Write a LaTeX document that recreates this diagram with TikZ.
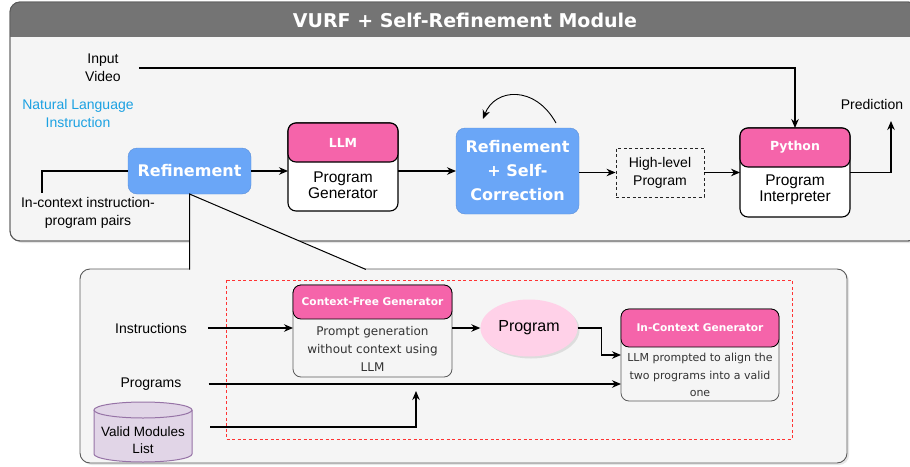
\documentclass[tikz,border=0pt]{standalone}
\usepackage{fontspec}
\setmainfont{Liberation Sans}
\newfontfamily\verd{DejaVu Sans}
\usepackage{tikz}
\usetikzlibrary{shapes,arrows.meta,positioning,shadows}

\definecolor{panelgray}{HTML}{F5F5F5}
\definecolor{panelline}{HTML}{5A5A5A}
\definecolor{titlegray}{HTML}{747474}
\definecolor{bluefill}{HTML}{6AA6F7}
\definecolor{blueline}{HTML}{5B8FD9}
\definecolor{hdrpink}{HTML}{F564AA}
\definecolor{progpink}{HTML}{FFD1E8}
\definecolor{cylfill}{HTML}{E1D5E7}
\definecolor{cylline}{HTML}{9673A6}
\definecolor{nlblue}{HTML}{1BA1E2}
\definecolor{darktext}{HTML}{333333}
\definecolor{dashred}{HTML}{FF3333}

\tikzset{
  arr/.style={-{Stealth[length=9pt,width=7.5pt]}, line width=1.1pt},
  wire/.style={line width=1.1pt},
  lbl/.style={font=\fontsize{14}{18}\selectfont, align=center, inner sep=2pt},
  panel/.style={draw=panelline, fill=panelgray, rounded corners=10pt, line width=0.9pt},
  bluebox/.style={draw=blueline, fill=bluefill, rounded corners=9pt, text=white, align=center,
    inner sep=0pt, outer sep=0pt, font=\verd\bfseries\fontsize{16}{24}\selectfont},
  topbox/.style={draw=black, line width=1.1pt, fill=white, rounded corners=8pt,
    inner sep=0pt, outer sep=0pt, minimum width=110pt},
  tophead/.style={topbox, fill=hdrpink, text=white, font=\verd\bfseries\fontsize{12.5}{14}\selectfont,
    minimum height=39pt},
  toptxt/.style={align=center, inner sep=0pt, font=\fontsize{15.5}{16.5}\selectfont},
  lowbox/.style={draw=panelline, line width=0.8pt, fill=panelgray, rounded corners=8pt,
    inner sep=0pt, outer sep=0pt},
  lowhead/.style={lowbox, draw=black, fill=hdrpink, text=white,
    font=\verd\bfseries\fontsize{10.6}{13}\selectfont},
  bodytxt/.style={align=center, inner sep=0pt, text=darktext},
  softshadow/.style={drop shadow={opacity=0.2,shadow xshift=2pt,shadow yshift=-2pt}},
}

\begin{document}
\begin{tikzpicture}[x=1pt,y=-1pt]
  \useasboundingbox (0,0) rectangle (910,466);

  \path[panel, softshadow] (10,2) rectangle (918,241);
  \begin{scope}
    \clip[rounded corners=10pt] (10,2) rectangle (918,241);
    \fill[titlegray] (10,2) rectangle (918,37);
  \end{scope}
  \draw[panelline, line width=0.9pt, rounded corners=10pt] (10,2) rectangle (918,241);
  \node[font=\verd\bfseries\fontsize{19}{22}\selectfont, text=white] (title) at (465,20) {VURF + Self-Refinement Module};

  \node[lbl] (inputvideo) at (103,68) {Input\\Video};
  \node[lbl, text=nlblue] (nli) at (78,113.5) {Natural Language\\Instruction};
  \node[bluebox, minimum width=123pt, minimum height=46pt] (refine) at (189.5,171) {Refinement};
  \coordinate (pairsend) at (42,193);
  \node[lbl] (pairs) at (88,213) {In-context instruction-\\program pairs};

  \node[topbox, minimum height=88pt] (llm) at (343,167) {};
  \node[tophead] (llmhead) at (343,142.5) {LLM};
  \node[toptxt] (llmtxt) at (343,185) {Program\\Generator};

  \node[bluebox, minimum width=123pt, minimum height=86pt] (selfcorr) at (517.5,171) {Refinement\\+ Self-\\Correction};
  \node[lbl, draw=black!85, line width=0.9pt, dash pattern=on 3pt off 2.5pt, fill=panelgray,
    minimum width=88pt, minimum height=49pt] (highlevel) at (660,172.5) {High-level\\Program};

  \node[topbox, minimum height=89pt] (python) at (795,172.5) {};
  \node[tophead] (pyhead) at (795,147.5) {Python};
  \node[toptxt] (pytxt) at (795,190) {Program\\Interpreter};
  \node[lbl] (prediction) at (872,104) {Prediction};
  \coordinate (predend) at (891,121);

  \draw[arr] ([xshift=16pt]inputvideo.east) -| (pyhead.north);
  \draw[wire] (refine.west) -| (pairsend);
  \draw[arr] (refine.east) -- (refine -| llm.west);
  \draw[arr] (llm.east |- selfcorr) -- (selfcorr.west);
  \draw[arr] (selfcorr.east |- highlevel) -- (highlevel.west);
  \draw[arr] (highlevel.east) -- (highlevel -| python.west);
  \draw[arr] (python.east) -| (predend);
  \draw[arr, line width=0.9pt] ([shift={(38.5pt,5pt)}]selfcorr.north) .. controls +(-21,-38) and +(12,-31) .. ([shift={(-34.5pt,9pt)}]selfcorr.north);

  \path[panel, softshadow] (80,269) rectangle (847,463);
  \fill[panelgray] (189.5,271) -- (refine.south) -- (370,271) -- cycle;
  \draw[black, line width=1pt] (189.5,269.5) -- (refine.south) -- (366,269.5);

  \draw[dashred, line width=0.9pt, dash pattern=on 3pt off 2.5pt] (226,280) rectangle (792,439);

  \node[lbl] (instructions) at (151,328) {Instructions};
  \node[lowbox, minimum width=159pt, minimum height=92pt] (cfgen) at (372.5,331) {};
  \node[lowhead, minimum width=159pt, minimum height=34pt] (cfhead) at (372.5,302) {Context-Free Generator};
  \node[bodytxt, font=\verd\fontsize{12}{18}\selectfont] (cftxt) at (372.5,349) {Prompt generation\\without context using\\LLM};

  \node[ellipse, fill=progpink, softshadow, minimum width=97pt, minimum height=57pt,
    font=\fontsize{16}{18}\selectfont] (program) at (529,328) {Program};

  \node[lowbox, minimum width=158pt, minimum height=92pt] (icgen) at (700,355) {};
  \node[lowhead, minimum width=158pt, minimum height=38pt] (ichead) at (700,328) {In-Context Generator};
  \node[bodytxt, font=\verd\fontsize{11}{17.5}\selectfont] (ictxt) at (700,375) {LLM prompted to align the\\two programs into a valid\\one};

  \node[lbl] (programs) at (151,384) {Programs};

  \path[draw=cylline, fill=cylfill, line width=1pt] (94,410) -- (94,454) arc[start angle=180, end angle=360, x radius=49pt, y radius=8pt] -- (192,410);
  \draw[cylline, fill=cylfill, line width=1pt] (143,410) ellipse [x radius=49pt, y radius=8pt];
  \node[lbl, font=\fontsize{13.5}{17}\selectfont, minimum width=98pt, minimum height=60pt, inner sep=0pt] (modules) at (143,440.5) {Valid Modules\\List};
  \coordinate (merge) at (416,391);

  \draw[arr] ([xshift=19pt]instructions.east) -- (instructions -| cfgen.west);
  \draw[arr] (cfgen.east |- program) -- (program.west);
  \draw[arr] (program.east) -- ++(24,0) |- (icgen.west);
  \draw[arr] ([xshift=25pt]programs.east) -- (programs -| icgen.west);
  \draw[arr] ([xshift=18pt,yshift=13.5pt]modules.east) -| (merge);
\end{tikzpicture}
\end{document}
